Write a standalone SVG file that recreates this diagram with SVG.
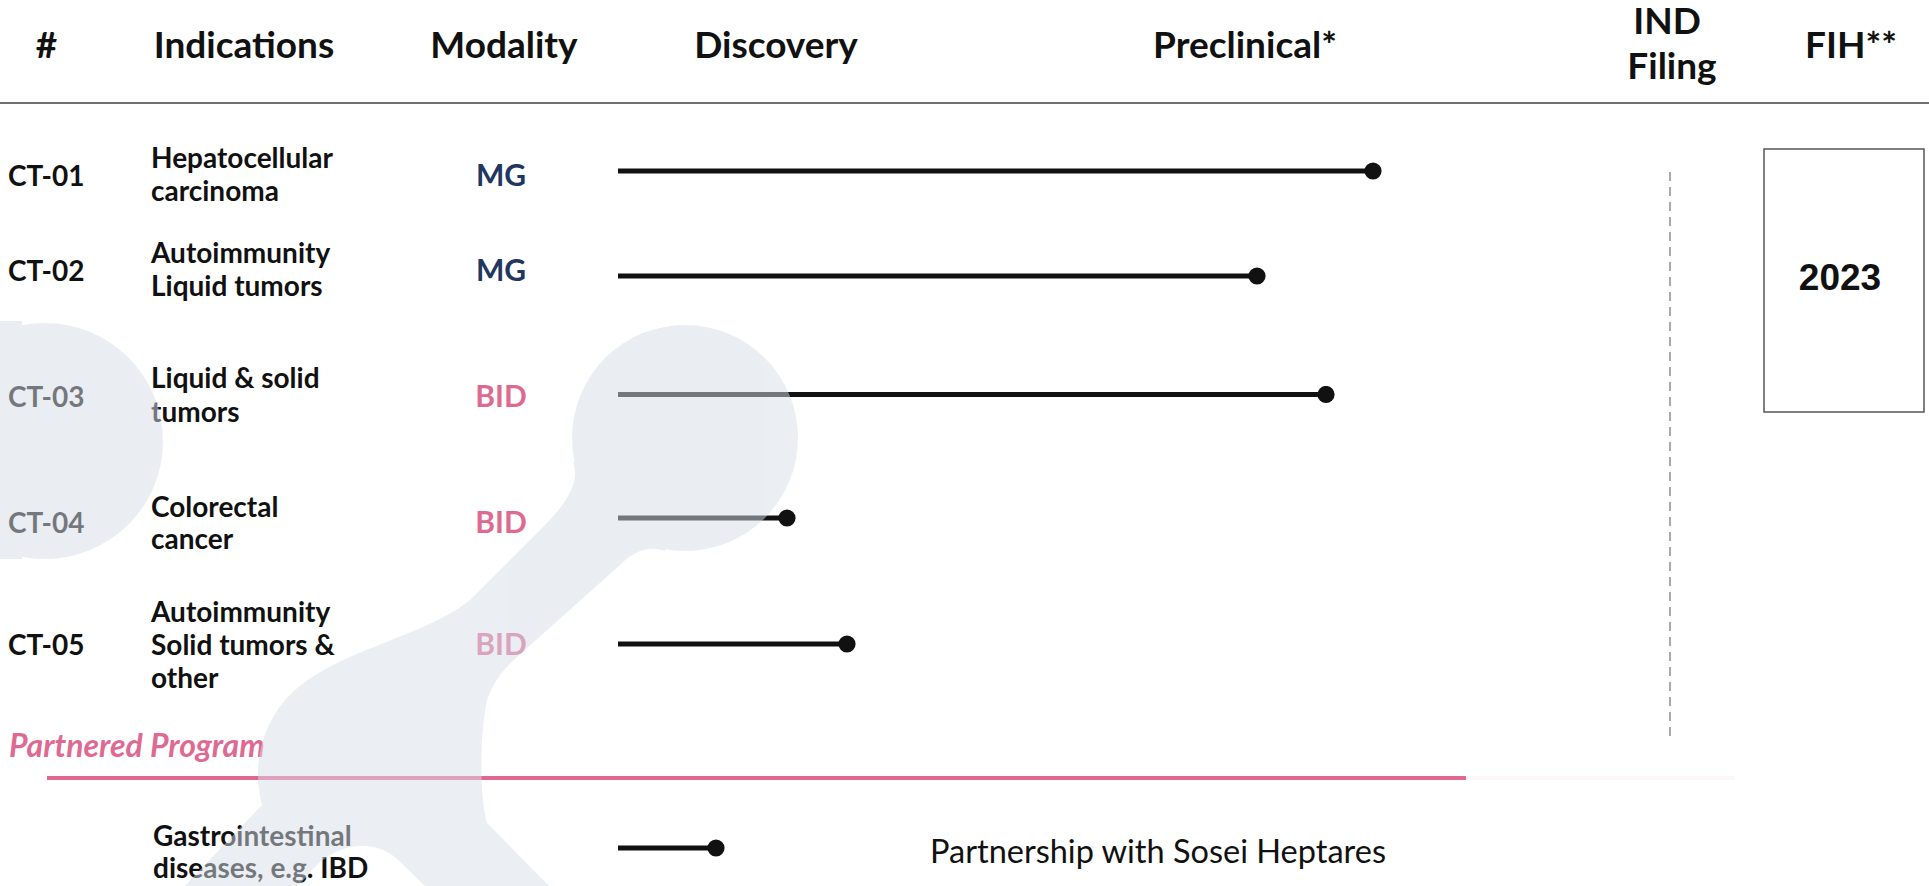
<svg xmlns="http://www.w3.org/2000/svg" width="1929" height="886" viewBox="0 0 1929 886">
<style>
.h{font-family:Lato,"Open Sans",sans-serif;font-weight:700;font-size:37px;fill:#111;text-anchor:middle}
.id{font-family:Lato,"Open Sans",sans-serif;font-weight:700;font-size:28px;fill:#111}
.ind{font-family:Lato,"Open Sans",sans-serif;font-weight:700;font-size:28px;fill:#111}
.mod{font-family:Lato,"Open Sans",sans-serif;font-weight:700;font-size:30px;text-anchor:middle}
.mg{fill:#22375f}
.bid{fill:#de6a92}
.bar{stroke:#111;stroke-width:5;fill:none}
</style>
<defs>
<marker id="dot" viewBox="-9 -9 18 18" markerUnits="userSpaceOnUse" markerWidth="18" markerHeight="18" refX="0" refY="0" orient="auto">
<circle r="8.6" fill="#111"/>
</marker>
</defs>
<rect width="1929" height="886" fill="#fff"/>

<g id="header">
<text class="h" x="46.5" y="57.5">#</text>
<text class="h" x="244" y="57.5">Indications</text>
<text class="h" x="504" y="57.5">Modality</text>
<text class="h" x="776" y="57.5">Discovery</text>
<text class="h" x="1245" y="57.5">Preclinical*</text>
<text class="h" x="1667" y="34">IND</text>
<text class="h" x="1672" y="79">Filing</text>
<text class="h" x="1851" y="57.5">FIH**</text>
<line x1="0" y1="103" x2="1929" y2="103" stroke="#707070" stroke-width="2"/>
</g>

<g id="ct01">
<text class="id" x="8" y="186">CT-01</text>
<text class="ind" x="151" y="168">Hepatocellular</text>
<text class="ind" x="151" y="201">carcinoma</text>
<text class="mod mg" x="501" y="186">MG</text>
</g>
<g id="ct02">
<text class="id" x="8" y="281">CT-02</text>
<text class="ind" x="151" y="263">Autoimmunity</text>
<text class="ind" x="151" y="296">Liquid tumors</text>
<text class="mod mg" x="501" y="281">MG</text>
</g>
<g id="ct03">
<text class="id" x="8" y="406.7">CT-03</text>
<text class="ind" x="151" y="388">Liquid &amp; solid</text>
<text class="ind" x="151" y="421.7">tumors</text>
<text class="mod bid" x="501" y="406.7">BID</text>
</g>
<g id="ct04">
<text class="id" x="8" y="532.7">CT-04</text>
<text class="ind" x="151" y="516.7">Colorectal</text>
<text class="ind" x="151" y="549.3">cancer</text>
<text class="mod bid" x="501" y="532.7">BID</text>
</g>
<g id="ct05">
<text class="id" x="8" y="655">CT-05</text>
<text class="ind" x="151" y="621.7">Autoimmunity</text>
<text class="ind" x="151" y="655">Solid tumors &amp;</text>
<text class="ind" x="151" y="688.3">other</text>
<text class="mod bid" x="501" y="655">BID</text>
</g>

<g id="partnered">
<text x="9" y="757" font-family="Lato, 'Open Sans', sans-serif" font-weight="700" font-style="italic" font-size="32" fill="#de6a92">Partnered Program</text>
<line x1="47" y1="778" x2="1466" y2="778" stroke="#e06890" stroke-width="4"/>
<line x1="1466" y1="778" x2="1735" y2="778" stroke="#e06890" stroke-opacity="0.05" stroke-width="4"/>
<text class="ind" x="153" y="846">Gastrointestinal</text>
<text class="ind" x="153" y="878">diseases, e.g. IBD</text>
<text x="930" y="863" font-family="Lato, 'Open Sans', sans-serif" font-size="32.5" fill="#111">Partnership with Sosei Heptares</text>
</g>

<g id="ind-filing">
<line x1="1670" y1="172" x2="1670" y2="736" stroke="#aaa" stroke-width="2" stroke-dasharray="9 6"/>
</g>
<g id="fih">
<rect x="1764" y="149" width="160" height="263" fill="none" stroke="#555" stroke-width="1.5"/>
<text x="1840" y="290" font-family="'Liberation Sans', Arial, sans-serif" font-weight="700" font-size="37" fill="#111" text-anchor="middle">2023</text>
</g>

<g id="connectors">
<line class="bar" x1="618" y1="171" x2="1373" y2="171" marker-end="url(#dot)"/>
<line class="bar" x1="618" y1="276" x2="1257" y2="276" marker-end="url(#dot)"/>
<line class="bar" x1="618" y1="394.5" x2="1326" y2="394.5" marker-end="url(#dot)"/>
<line class="bar" x1="618" y1="518" x2="787" y2="518" marker-end="url(#dot)"/>
<line class="bar" x1="618" y1="644" x2="847" y2="644" marker-end="url(#dot)"/>
<line class="bar" x1="618" y1="848" x2="716" y2="848" marker-end="url(#dot)"/>
</g>

<g id="backdrop" opacity="0.5" fill="#d7dde7">
<circle cx="45" cy="441" r="118"/>
<rect x="-10" y="321" width="32" height="238"/>
<circle cx="685" cy="438" r="113"/>
<path d="M573,462 Q583,487 545,525 L470,600 C420,640 330,650 285,700 C256,735 254,775 262,805 L178,893 L292,893 L314,868 C334,846 370,836 396,858 L432,893 L556,893 L487,823 C480,800 479,740 487,700 C494,680 505,668 517,657 L620,565 Q642,543 665,551 L685,438 Z"/>
</g>
</svg>
